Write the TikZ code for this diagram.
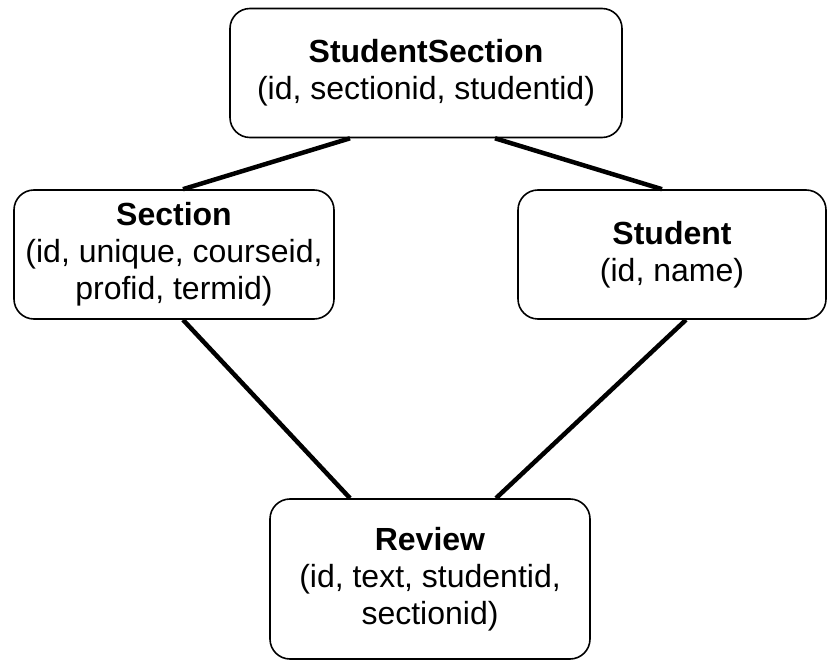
\documentclass[tikz,border=0pt]{standalone}
\usepackage{fontspec}
\setmainfont{Liberation Sans}
\usepackage{tikz}

\begin{document}
\begin{tikzpicture}[x=1pt,y=-1pt,
        table/.style={draw,line width=1.6pt,rounded corners=20pt,align=center,
            inner sep=0pt,font=\fontsize{32}{37}\selectfont},
        link/.style={line width=4.5pt}]
        \useasboundingbox (0,0) rectangle (828,660);

        \node[table,minimum width=392pt,minimum height=129pt] (studsec) at (426,73)
            {\textbf{StudentSection}\\(id, sectionid, studentid)};
        \node[table,minimum width=320pt,minimum height=129pt] (section) at (174,254.5)
            {\textbf{Section}\\(id, unique, courseid,\\profid, termid)};
        \node[table,minimum width=308pt,minimum height=129pt] (student) at (672,254.5)
            {\textbf{Student}\\(id, name)};
        \node[table,minimum width=320pt,minimum height=160pt] (review) at (430,579)
            {\textbf{Review}\\(id, text, studentid,\\sectionid)};

        \draw[link] ([xshift=-76pt]studsec.south) -- ([xshift=9pt]section.north);
        \draw[link] ([xshift=69pt]studsec.south) -- ([xshift=-10pt]student.north);
        \draw[link] ([xshift=9pt]section.south) -- ([xshift=-80pt]review.north);
        \draw[link] ([xshift=14pt]student.south) -- ([xshift=66pt]review.north);
    \end{tikzpicture}
\end{document}
